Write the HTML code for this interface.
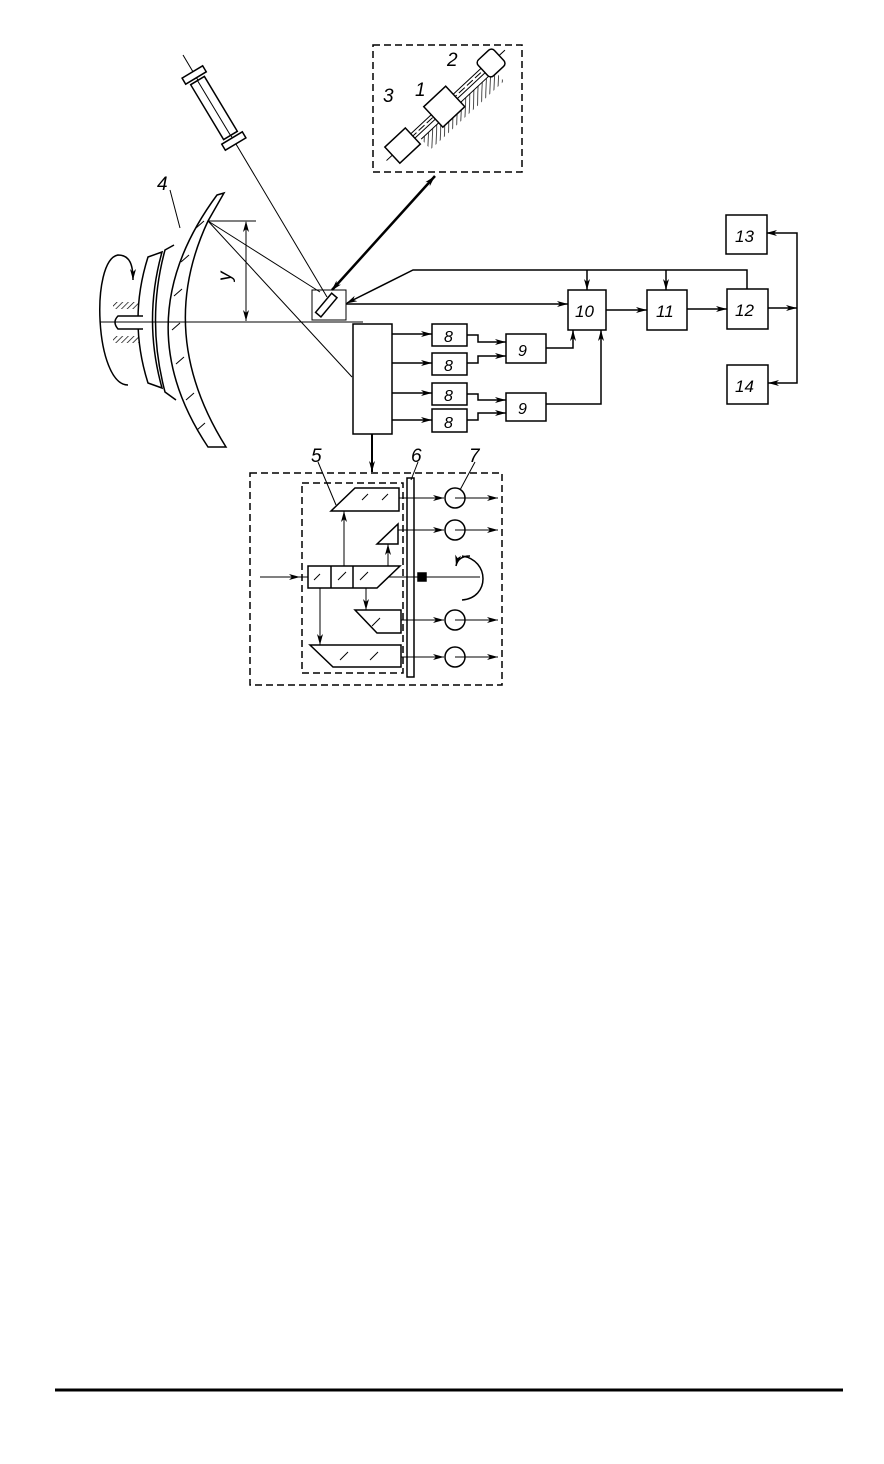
<!DOCTYPE html>
<html><head><meta charset="utf-8"><style>
html,body{margin:0;padding:0;background:#fff;}
svg{display:block}
text{font-family:"Liberation Sans",sans-serif;font-style:italic;fill:#000}
</style></head><body>
<svg width="884" height="1464" viewBox="0 0 884 1464" xmlns="http://www.w3.org/2000/svg">
<defs>
<marker id="a" markerWidth="12" markerHeight="8" refX="11" refY="4" orient="auto" markerUnits="userSpaceOnUse">
<path d="M0,1 L11,4 L0,7 L3,4 Z" fill="#000"/></marker>
<marker id="b" markerWidth="12" markerHeight="8" refX="1" refY="4" orient="auto" markerUnits="userSpaceOnUse">
<path d="M11,1 L0,4 L11,7 L8,4 Z" fill="#000"/></marker>
<pattern id="h" width="4" height="4" patternUnits="userSpaceOnUse" patternTransform="rotate(45)">
<line x1="0" y1="0" x2="0" y2="4" stroke="#000" stroke-width="1.4"/></pattern>
</defs>
<g fill="none" stroke="#000" stroke-width="1.5">
<!-- telescope -->
<line x1="183" y1="55" x2="327" y2="297" stroke-width="1"/>
<g transform="translate(214,108) rotate(59)">
<rect x="-42" y="-12" width="7" height="24" fill="#fff"/>
<rect x="-32" y="-8" width="64" height="16" fill="#fff"/>
<line x1="-32" y1="0" x2="32" y2="0" stroke-width="1"/>
<rect x="35" y="-12" width="7" height="24" fill="#fff"/>
</g>
<!-- inset -->
<rect x="373" y="45" width="149" height="127" stroke-dasharray="7,4"/>
<g transform="translate(445,106) rotate(-43)">
<rect x="-40" y="8" width="100" height="14" fill="url(#h)" stroke="none"/>
<line x1="-40" y1="8" x2="60" y2="8" stroke-width="1"/>
<line x1="-80" y1="0" x2="82" y2="0" stroke-width="1" stroke-dasharray="8,3"/>
<line x1="-50" y1="-3" x2="52" y2="-3" stroke-width="1"/><line x1="-50" y1="3" x2="52" y2="3" stroke-width="1"/>
<rect x="-72" y="-11" width="28" height="22" fill="#fff"/>
<rect x="-16" y="-14" width="30" height="28" fill="#fff"/>
<rect x="52" y="-11" width="22" height="22" rx="4" fill="#fff"/>
</g>
<!-- double arrow -->
<line x1="332" y1="290" x2="435" y2="176" stroke-width="2.5" marker-start="url(#b)" marker-end="url(#a)"/>
<!-- backing plates -->
<path d="M162,252 L148,257 Q128,320 148,383 L162,388 Q143,320 162,252 Z" fill="#fff"/>
<path d="M174,245 L165,250 Q146,320 165,392 L176,400"/>
<!-- mirror 4 -->
<path d="M217,195 L224,193 L208,221 Q155,334 226,447 L208,447 Q124,321 217,195 Z" fill="#fff"/>
<g stroke-width="1" stroke="#000">
<line x1="196" y1="228" x2="204" y2="221"/><line x1="181" y1="262" x2="189" y2="255"/><line x1="174" y1="296" x2="182" y2="289"/><line x1="172" y1="330" x2="180" y2="323"/><line x1="176" y1="364" x2="184" y2="357"/><line x1="186" y1="400" x2="194" y2="393"/><line x1="197" y1="430" x2="205" y2="423"/>
</g>
<!-- rotation arrow -->
<path d="M128,385 C95,385 90,260 118,255 C130,255 133,265 133,280" marker-end="url(#a)"/>
<rect x="113" y="302" width="26" height="7" fill="url(#h)" stroke="none"/>
<rect x="113" y="336" width="26" height="7" fill="url(#h)" stroke="none"/>
<path d="M143,316 L118,316 Q112,322 118,329 L143,329" fill="#fff"/>
<!-- axis -->
<line x1="100" y1="322" x2="363" y2="322" stroke-width="1"/>
<!-- dimension -->
<line x1="208" y1="221" x2="256" y2="221" stroke-width="1"/>
<line x1="246" y1="222" x2="246" y2="321" stroke-width="1" marker-start="url(#b)" marker-end="url(#a)"/>
<line x1="208" y1="221" x2="320" y2="292" stroke-width="1"/>
<line x1="208" y1="221" x2="352" y2="377" stroke-width="1"/>
<!-- small mirror -->
<rect x="312" y="290" width="34" height="30" stroke-width="1"/>
<rect x="323" y="293" width="7" height="25" transform="rotate(40 327 305)" fill="#fff"/>
<!-- top feedback lines -->
<polyline points="347,303 413,270 747,270 747,289" marker-start="url(#b)"/>
<line x1="587" y1="270" x2="587" y2="290" marker-end="url(#a)"/>
<line x1="666" y1="270" x2="666" y2="290" marker-end="url(#a)"/>
<line x1="346" y1="304" x2="568" y2="304" marker-end="url(#a)"/>
<!-- boxes -->
<rect x="568" y="290" width="38" height="40"/>
<rect x="647" y="290" width="40" height="40"/>
<rect x="727" y="289" width="41" height="40"/>
<rect x="726" y="215" width="41" height="39"/>
<rect x="727" y="365" width="41" height="39"/>
<line x1="606" y1="310" x2="647" y2="310" marker-end="url(#a)"/>
<line x1="687" y1="309" x2="727" y2="309" marker-end="url(#a)"/>
<line x1="768" y1="308" x2="797" y2="308" marker-end="url(#a)"/>
<polyline points="767,233 797,233 797,383 768,383" marker-start="url(#b)" marker-end="url(#a)"/>
<!-- big block -->
<rect x="353" y="324" width="39" height="110"/>
<g>
<rect x="432" y="324" width="35" height="22"/><rect x="432" y="353" width="35" height="22"/>
<rect x="432" y="383" width="35" height="22"/><rect x="432" y="409" width="35" height="23"/>
<line x1="392" y1="334" x2="432" y2="334" marker-end="url(#a)"/>
<line x1="392" y1="363" x2="432" y2="363" marker-end="url(#a)"/>
<line x1="392" y1="393" x2="432" y2="393" marker-end="url(#a)"/>
<line x1="392" y1="420" x2="432" y2="420" marker-end="url(#a)"/>
<rect x="506" y="334" width="40" height="29"/><rect x="506" y="393" width="40" height="28"/>
<polyline points="467,335 478,335 478,342 506,342" marker-end="url(#a)"/>
<polyline points="467,363 478,363 478,356 506,356" marker-end="url(#a)"/>
<polyline points="467,394 478,394 478,400 506,400" marker-end="url(#a)"/>
<polyline points="467,420 478,420 478,413 506,413" marker-end="url(#a)"/>
<polyline points="546,348 573,348 573,330" marker-end="url(#a)"/>
<polyline points="546,404 601,404 601,330" marker-end="url(#a)"/>
</g>
<line x1="372" y1="434" x2="372" y2="472" stroke-width="2" marker-end="url(#a)"/>
<!-- lower section -->
<rect x="250" y="473" width="252" height="212" stroke-dasharray="7,4"/>
<rect x="302" y="483" width="101" height="190" stroke-dasharray="7,4"/>
<rect x="407" y="478" width="7" height="199" fill="#fff"/>
<line x1="260" y1="577" x2="480" y2="577" stroke-width="1"/>
<line x1="260" y1="577" x2="300" y2="577" stroke-width="1" marker-end="url(#a)"/>
<rect x="418" y="573" width="8" height="8" fill="#000"/>
<path d="M462,556 C490,560 490,598 462,600" stroke-width="1.5"/>
<path d="M470,556 Q458,556 456,566" stroke-width="1.5" marker-end="url(#a)"/>
<polygon points="331,511 355,488 399,488 399,511" fill="#fff"/>
<polygon points="377,544 398,524 398,544" fill="#fff"/>
<polygon points="308,566 400,566 377,588 308,588" fill="#fff"/>
<line x1="331" y1="566" x2="331" y2="588"/><line x1="353" y1="566" x2="353" y2="588"/>
<polygon points="355,610 401,610 401,633 377,633" fill="#fff"/>
<polygon points="310,645 401,645 401,667 333,667" fill="#fff"/>
<g stroke-width="1">
<line x1="362" y1="500" x2="368" y2="494"/><line x1="382" y1="500" x2="388" y2="494"/>
<line x1="314" y1="580" x2="320" y2="574"/><line x1="338" y1="580" x2="346" y2="572"/><line x1="360" y1="580" x2="368" y2="572"/>
<line x1="372" y1="626" x2="380" y2="618"/><line x1="340" y1="660" x2="348" y2="652"/><line x1="370" y1="660" x2="378" y2="652"/>
<line x1="344" y1="566" x2="344" y2="511" marker-end="url(#a)"/>
<line x1="388" y1="566" x2="388" y2="544" marker-end="url(#a)"/>
<line x1="320" y1="588" x2="320" y2="645" marker-end="url(#a)"/>
<line x1="366" y1="588" x2="366" y2="610" marker-end="url(#a)"/>
<line x1="399" y1="498" x2="444" y2="498" marker-end="url(#a)"/><line x1="455" y1="498" x2="498" y2="498" marker-end="url(#a)"/>
<line x1="398" y1="530" x2="444" y2="530" marker-end="url(#a)"/><line x1="455" y1="530" x2="498" y2="530" marker-end="url(#a)"/>
<line x1="401" y1="620" x2="444" y2="620" marker-end="url(#a)"/><line x1="455" y1="620" x2="498" y2="620" marker-end="url(#a)"/>
<line x1="401" y1="657" x2="444" y2="657" marker-end="url(#a)"/><line x1="455" y1="657" x2="498" y2="657" marker-end="url(#a)"/>
</g>
<circle cx="455" cy="498" r="10"/><circle cx="455" cy="530" r="10"/>
<circle cx="455" cy="620" r="10"/><circle cx="455" cy="657" r="10"/>
<!-- leaders -->
<line x1="318" y1="462" x2="336" y2="505" stroke-width="1"/>
<line x1="418" y1="462" x2="411" y2="480" stroke-width="1"/>
<line x1="475" y1="462" x2="460" y2="490" stroke-width="1"/>
<line x1="170" y1="190" x2="180" y2="228" stroke-width="1"/>
</g>
<line x1="55" y1="1390" x2="843" y2="1390" stroke="#000" stroke-width="3"/>
<g font-size="19">
<text x="157" y="190">4</text>
<text x="447" y="66">2</text>
<text x="415" y="96">1</text>
<text x="383" y="102">3</text>
<text x="220" y="280" transform="rotate(-90 226 275)">y</text>
<text x="311" y="462">5</text>
<text x="411" y="462">6</text>
<text x="469" y="462">7</text>
<text x="575" y="317" font-size="17">10</text>
<text x="656" y="317" font-size="17">11</text>
<text x="735" y="316" font-size="17">12</text>
<text x="735" y="242" font-size="17">13</text>
<text x="735" y="392" font-size="17">14</text>
<text x="444" y="342" font-size="16">8</text>
<text x="444" y="371" font-size="16">8</text>
<text x="444" y="401" font-size="16">8</text>
<text x="444" y="428" font-size="16">8</text>
<text x="518" y="356" font-size="16">9</text>
<text x="518" y="414" font-size="16">9</text>
</g>
</svg>
</body></html>
